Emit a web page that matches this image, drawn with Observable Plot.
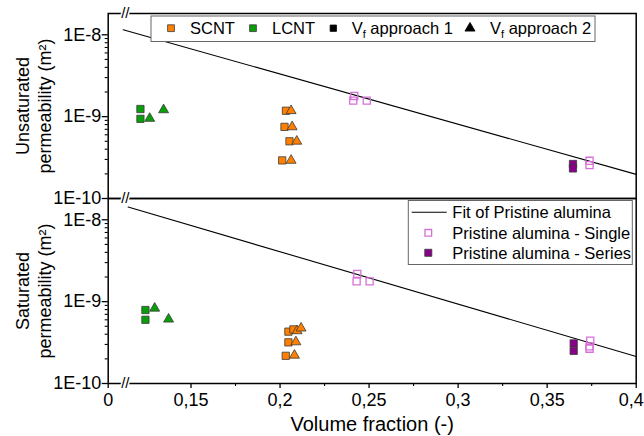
<!DOCTYPE html>
<html><head><meta charset="utf-8">
<script src="https://cdn.jsdelivr.net/npm/d3@7"></script>
<script src="https://cdn.jsdelivr.net/npm/@observablehq/plot@0.6"></script>
<style>
html,body{margin:0;padding:0;background:#fff;}
#chart{width:644px;height:436px;}
svg{display:block;}
</style></head><body><div id="chart"></div>
<script>
// ---------- data ----------
const panels = ["Unsaturated", "Saturated"];
const yTitles = ["Unsaturated\npermeability (m²)", "Saturated\npermeability (m²)"];
const xLabel = "Volume fraction (-)";
const xTickValues = [0.1035, 0.15, 0.2, 0.25, 0.3, 0.35, 0.4];
const xTickLabels = ["0", "0,15", "0,2", "0,25", "0,3", "0,35", "0,4"];
const xMinorTicks = [0.175, 0.225, 0.275, 0.325, 0.375];
const yTickValues = [1e-10, 1e-9, 1e-8];
const yTickLabels = ["1E-10", "1E-9", "1E-8"];
const legendTopLabels = ["SCNT", "LCNT", "approach 1", "approach 2"];
const legendBottomLabels = ["Fit of Pristine alumina", "Pristine alumina - Single", "Pristine alumina - Series"];

// Unsaturated panel
const unsatLCNT1x = [0.1216, 0.1216];
const unsatLCNT1y = [1.24e-9, 9.4e-10];
const unsatLCNT2x = [0.1268, 0.1346];
const unsatLCNT2y = [9.5e-10, 1.21e-9];
const unsatSCNT1x = [0.2033, 0.2025, 0.2053, 0.2012];
const unsatSCNT1y = [1.18e-9, 7.5e-10, 5.0e-10, 2.92e-10];
const unsatSCNT2x = [0.2062, 0.2068, 0.2094, 0.2062];
const unsatSCNT2y = [1.18e-9, 7.5e-10, 5.0e-10, 2.92e-10];
const unsatSinglex = [0.2417, 0.2411, 0.2487, 0.3738, 0.3738];
const unsatSingley = [1.79e-9, 1.57e-9, 1.57e-9, 2.89e-10, 2.56e-10];
const unsatSeriesx = [0.3645, 0.3645];
const unsatSeriesy = [2.64e-10, 2.33e-10];
const unsatFitx = [0.1119, 0.4];
const unsatFity = [1.15e-8, 1.97e-10];

// Saturated panel
const satLCNT1x = [0.1244, 0.1244];
const satLCNT1y = [7.9e-10, 6.0e-10];
const satLCNT2x = [0.1296, 0.1374];
const satLCNT2y = [8.3e-10, 6.1e-10];
const satSCNT1x = [0.2047, 0.2075, 0.2047, 0.2032];
const satSCNT1y = [4.3e-10, 4.58e-10, 3.18e-10, 2.18e-10];
const satSCNT2x = [0.2096, 0.2118, 0.2089, 0.2081];
const satSCNT2y = [4.4e-10, 4.74e-10, 3.22e-10, 2.21e-10];
const satSinglex = [0.2434, 0.2430, 0.2503, 0.3742, 0.3738, 0.3738];
const satSingley = [2.18e-9, 1.77e-9, 1.77e-9, 3.33e-10, 2.84e-10, 2.66e-10];
const satSeriesx = [0.3649, 0.3649];
const satSeriesy = [3.09e-10, 2.5e-10];
const satFitx = [0.1147, 0.4];
const satFity = [1.43e-8, 2.14e-10];

// ---------- styles ----------
const FONT = "'Liberation Sans', Arial, Helvetica, sans-serif";
const C_ORANGE = "#ff8000", C_GREEN = "#0a9e0a", C_PINK = "#d86fd8", C_PURPLE = "#880088", C_EDGE = "#3a3a3a";

const rows = (panel, xs, ys) => xs.map((x, i) => ({panel, x, y: ys[i]}));
const both = (a, b) => a.concat(b);

const lcnt1 = both(rows(panels[0], unsatLCNT1x, unsatLCNT1y), rows(panels[1], satLCNT1x, satLCNT1y));
const lcnt2 = both(rows(panels[0], unsatLCNT2x, unsatLCNT2y), rows(panels[1], satLCNT2x, satLCNT2y));
const scnt1 = both(rows(panels[0], unsatSCNT1x, unsatSCNT1y), rows(panels[1], satSCNT1x, satSCNT1y));
const scnt2 = both(rows(panels[0], unsatSCNT2x, unsatSCNT2y), rows(panels[1], satSCNT2x, satSCNT2y));
const single = both(rows(panels[0], unsatSinglex, unsatSingley), rows(panels[1], satSinglex, satSingley));
const series = both(rows(panels[0], unsatSeriesx, unsatSeriesy), rows(panels[1], satSeriesx, satSeriesy));
const fit = both(rows(panels[0], unsatFitx, unsatFity), rows(panels[1], satFitx, satFity));

const yMinor = d3.scaleLog().domain([1e-10, 1.82e-8]).ticks().filter(v => !yTickValues.some(t => Math.abs(t - v) / t < 1e-6));

const W = 644, H = 436, mL = 107.7, mR = 8.3, mT = 12.7, mB = 53.3;
const lastTick = xTickValues.length - 1;

const plot = Plot.plot({
  width: W, height: H,
  marginLeft: mL, marginRight: mR, marginTop: mT, marginBottom: mB,
  style: {fontFamily: FONT, fontSize: "18px", color: "#000", background: "#fff"},
  x: {domain: [xTickValues[0], 0.4]},
  y: {type: "log", domain: [1e-10, 1.82e-8]},
  fy: {domain: panels, padding: 0, axis: null, label: null},
  marks: [
    Plot.line(fit, {x: "x", y: "y", fy: "panel", z: "panel", stroke: "#000", strokeWidth: 1.1}),
    Plot.dot(lcnt1, {x: "x", y: "y", fy: "panel", symbol: "square", r: 4.1, fill: C_GREEN, stroke: C_EDGE, strokeWidth: 0.8}),
    Plot.dot(lcnt2, {x: "x", y: "y", fy: "panel", symbol: "triangle", r: 3.7, fill: C_GREEN, stroke: C_EDGE, strokeWidth: 0.8}),
    Plot.dot(scnt1, {x: "x", y: "y", fy: "panel", symbol: "square", r: 4.1, fill: C_ORANGE, stroke: C_EDGE, strokeWidth: 0.8}),
    Plot.dot(scnt2, {x: "x", y: "y", fy: "panel", symbol: "triangle", r: 3.7, fill: C_ORANGE, stroke: C_EDGE, strokeWidth: 0.8}),
    Plot.dot(series, {x: "x", y: "y", fy: "panel", symbol: "square", r: 4.1, fill: C_PURPLE, stroke: C_EDGE, strokeWidth: 0.8}),
    Plot.dot(single, {x: "x", y: "y", fy: "panel", symbol: "square", r: 4.0, fill: "none", stroke: C_PINK, strokeWidth: 1.3}),
    Plot.frame({stroke: "#000", strokeWidth: 1.5}),
    Plot.axisY(yTickValues, {tickSize: 6, tickPadding: 1, strokeWidth: 1.3, fontSize: 18,
      tickFormat: d => yTickLabels[yTickValues.indexOf(d)], label: null}),
    Plot.axisY(yMinor, {tickSize: 3, strokeWidth: 1.1, tickFormat: () => "", label: null}),
    Plot.axisX(xTickValues, {tickSize: 5, tickPadding: 5, strokeWidth: 1.3, fontSize: 18,
      tickFormat: d => { const i = xTickValues.indexOf(d); return i === lastTick ? "" : xTickLabels[i]; }, label: null}),
    Plot.axisX(xMinorTicks, {tickSize: 3, strokeWidth: 1.1, tickFormat: () => "", label: null}),
    // last x tick label kept inside the picture
    Plot.text([{panel: panels[1], x: xTickValues[lastTick], label: xTickLabels[lastTick]}], {
      fy: "panel", x: "x", text: "label", frameAnchor: "bottom", dy: 17, dx: 7.5,
      textAnchor: "end", lineAnchor: "middle", fontSize: 18, fill: "#000"}),
    // axis titles
    Plot.text(panels.map((p, i) => ({panel: p, label: yTitles[i]})), {
      fy: "panel", text: "label", frameAnchor: "left", rotate: -90, dx: -75,
      textAnchor: "middle", lineAnchor: "middle", lineHeight: 1.22, fontSize: 18, fill: "#000"}),
    Plot.text([{panel: panels[1], label: xLabel}], {
      fy: "panel", text: "label", frameAnchor: "bottom", dy: 41,
      textAnchor: "middle", lineAnchor: "middle", fontSize: 20, fill: "#000"}),
    // axis break marks
    Plot.text(["//"], {text: d => d, frameAnchor: "bottom-left", dx: 13, dy: 0, lineAnchor: "middle",
      fontSize: 15, fill: "#000", stroke: "#fff", strokeWidth: 3, paintOrder: "stroke"}),
    Plot.text([{panel: panels[0]}], {fy: "panel", text: () => "//", frameAnchor: "top-left", dx: 13, dy: 0, lineAnchor: "middle",
      fontSize: 15, fill: "#000", stroke: "#fff", strokeWidth: 3, paintOrder: "stroke"})
  ]
});

document.getElementById("chart").appendChild(plot);

// ---------- legends ----------
const svg = d3.select(plot);
const sym = (type, size) => d3.symbol().type(type).size(size)();

// top legend (inside Unsaturated panel)
const lt = svg.append("g").attr("font-family", FONT).attr("font-size", 16.5).attr("fill", "#000").attr("text-anchor", "start");
const ltx = mL + 43.3, lty = mT + 3.3;
lt.append("rect").attr("x", ltx).attr("y", lty).attr("width", 444).attr("height", 25.5)
  .attr("fill", "#fff").attr("stroke", "#666").attr("stroke-width", 1);
const rowY = lty + 12.2;
const topItems = [
  {sx: 20, tx: 39, type: d3.symbolSquare, size: 46, fill: C_ORANGE, stroke: C_EDGE, label: legendTopLabels[0], sub: false},
  {sx: 102, tx: 121, type: d3.symbolSquare, size: 46, fill: C_GREEN, stroke: C_EDGE, label: legendTopLabels[1], sub: false},
  {sx: 182.3, tx: 200.7, type: d3.symbolSquare, size: 40, fill: "#000", stroke: "#000", label: legendTopLabels[2], sub: true},
  {sx: 319, tx: 339, type: d3.symbolTriangle, size: 44, fill: "#000", stroke: "#000", label: legendTopLabels[3], sub: true}
];
topItems.forEach(it => {
  lt.append("path").attr("d", sym(it.type, it.size))
    .attr("transform", `translate(${ltx + it.sx},${rowY})`)
    .attr("fill", it.fill).attr("stroke", it.stroke).attr("stroke-width", 0.8);
  const t = lt.append("text").attr("x", ltx + it.tx).attr("y", rowY + 6);
  if (it.sub) {
    t.append("tspan").text("V");
    t.append("tspan").attr("font-size", 11).attr("dy", 4).text("f");
    t.append("tspan").attr("dy", -4).text(" " + it.label);
  } else {
    t.text(it.label);
  }
});

// bottom legend (inside Saturated panel)
const fyScale = plot.scale("fy");
const bTop = (fyScale ? fyScale.apply(panels[1]) : 197.7) + 2.5;
const bRight = W - mR - 3.4;
const lb = svg.append("g").attr("font-family", FONT).attr("font-size", 16.5).attr("fill", "#000").attr("text-anchor", "start");
const bx = bRight - 224;
lb.append("rect").attr("x", bx).attr("y", bTop).attr("width", 224).attr("height", 64)
  .attr("fill", "#fff").attr("stroke", "#666").attr("stroke-width", 1);
const rowsY = [bTop + 11.7, bTop + 32.3, bTop + 52.3];
lb.append("line").attr("x1", bx + 3.4).attr("x2", bx + 38.4).attr("y1", rowsY[0]).attr("y2", rowsY[0])
  .attr("stroke", "#000").attr("stroke-width", 1.1);
lb.append("path").attr("d", sym(d3.symbolSquare, 44)).attr("transform", `translate(${bx + 20},${rowsY[1]})`)
  .attr("fill", "none").attr("stroke", C_PINK).attr("stroke-width", 1.3);
lb.append("path").attr("d", sym(d3.symbolSquare, 50)).attr("transform", `translate(${bx + 20},${rowsY[2]})`)
  .attr("fill", C_PURPLE).attr("stroke", C_EDGE).attr("stroke-width", 0.8);
legendBottomLabels.forEach((lab, i) => {
  lb.append("text").attr("x", bx + 44).attr("y", rowsY[i] + 6).text(lab);
});
</script>
</body></html>
